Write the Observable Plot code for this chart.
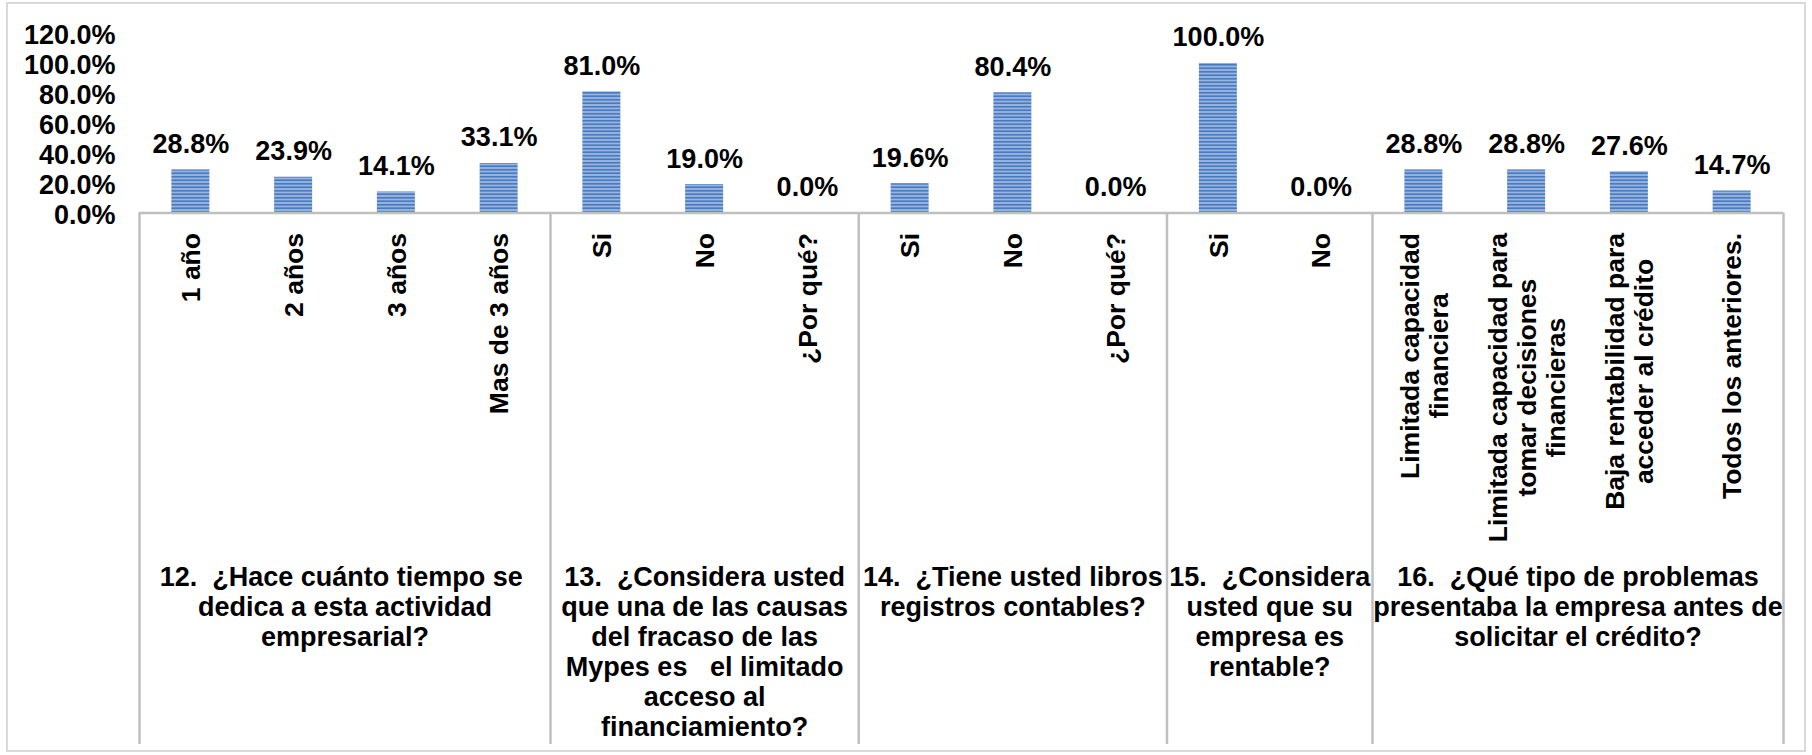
<!DOCTYPE html>
<html>
<head>
<meta charset="utf-8">
<script src="https://cdn.jsdelivr.net/npm/d3@7"></script>
<script src="https://cdn.jsdelivr.net/npm/@observablehq/plot@0.6"></script>
<style>
  html, body { margin: 0; padding: 0; background: #fff; overflow: hidden; }
  #wrap { position: relative; width: 1812px; height: 755px; }
  #border { position: absolute; left: 6px; top: 2px; width: 1800px; height: 750px;
            border: 2px solid #d9d9d9; box-sizing: border-box; pointer-events: none; }
</style>
</head>
<body>
<div id="wrap"></div>
<script>
// ---- data ----
const questions = [
  "12. \u00A0¿Hace cuánto tiempo se\u00A0\ndedica a esta actividad\nempresarial?",
  "13. \u00A0¿Considera usted\nque una de las causas\ndel fracaso de las\nMypes es \u00A0 el limitado\nacceso al\nfinanciamiento?",
  "14. \u00A0¿Tiene usted libros\nregistros contables?",
  "15. \u00A0¿Considera\nusted que su\nempresa es\nrentable?",
  "16. \u00A0¿Qué tipo de problemas\npresentaba la empresa antes de\nsolicitar el crédito?"
];
const categories = [
  ["1 año", "2 años", "3 años", "Mas de 3 años"],
  ["Si", "No", "¿Por qué?"],
  ["Si", "No", "¿Por qué?"],
  ["Si", "No"],
  ["Limitada capacidad\nfinanciera", "Limitada capacidad para\ntomar decisiones\nfinancieras",
   "Baja rentabilidad para\nacceder al crédito", "Todos los anteriores."]
];
const values = [
  [28.8, 23.9, 14.1, 33.1],
  [81.0, 19.0, 0.0],
  [19.6, 80.4, 0.0],
  [100.0, 0.0],
  [28.8, 28.8, 27.6, 14.7]
];
const yTicks = [0, 20, 40, 60, 80, 100, 120];

// ---- table built from the arrays ----
const rows = [];
const groups = [];
let k = 0;
categories.forEach((cats, g) => {
  const start = k;
  cats.forEach((c, j) => { rows.push({i: k, label: c, v: values[g][j]}); k++; });
  groups.push({start, end: k, q: questions[g]});
});
const n = k;
const boundaries = [0, ...groups.map(g => g.end)];

// ---- layout ----
const W = 1812, H = 755, mL = 139, mR = 29, mT = 33, mB = 542.5;
const FS = 27;      // horizontal texts
const FSR = 26.5;   // rotated category labels
const FONT = "'Liberation Sans', Arial, sans-serif";
const step = (W - mL - mR) / n;
const barW = 38;
const inset = (step - barW) / 2;

const ctx = document.createElement("canvas").getContext("2d");
ctx.font = `bold ${FSR}px 'Liberation Sans'`;
const maxLineWidth = s => Math.max(...s.split("\n").map(l => ctx.measureText(l).width));
const labelGap = 20;

const catLabelMarks = rows.map(r => Plot.text([r], {
  x: d => d.i + 0.5, frameAnchor: "bottom", text: "label",
  rotate: -90, textAnchor: "middle", lineAnchor: "middle", lineHeight: 1.1,
  fontSize: FSR, fontWeight: "bold", fill: "black",
  dy: labelGap + maxLineWidth(r.label) / 2
}));

const chart = Plot.plot({
  width: W, height: H,
  marginLeft: mL, marginRight: mR, marginTop: mT, marginBottom: mB,
  style: `font-family:${FONT};font-weight:bold;background:white;`,
  x: {domain: [0, n], axis: null},
  y: {domain: [0, 120], axis: null},
  marks: [
    Plot.axisY(yTicks, {
      tickSize: 0, tickPadding: 24, label: null, fontSize: FS, fontWeight: "bold",
      tickFormat: d => d.toFixed(1) + "%", dy: 2, fill: "black"
    }),
    Plot.rect(rows, {
      x1: "i", x2: d => d.i + 1, y1: 0, y2: "v",
      insetLeft: inset, insetRight: inset, fill: "url(#stripes)"
    }),
    Plot.ruleY([0], {stroke: "#bfbfbf", strokeWidth: 2.5}),
    Plot.ruleX(boundaries, {
      stroke: "#bfbfbf", strokeWidth: 2.5,
      insetTop: (H - mB) - mT, insetBottom: -(744 - (H - mB))
    }),
    Plot.text(rows, {
      x: d => d.i + 0.5, y: "v", text: d => d.v.toFixed(1) + "%",
      lineAnchor: "bottom", dy: -17, fontSize: FS, fontWeight: "bold", fill: "black"
    }),
    ...catLabelMarks,
    Plot.text(groups, {
      x: d => (d.start + d.end) / 2, frameAnchor: "bottom", text: "q",
      textAnchor: "middle", lineAnchor: "top", lineHeight: 30 / FS,
      fontSize: FS, fontWeight: "bold", fill: "black", dy: 352
    })
  ]
});

const svgNS = "http://www.w3.org/2000/svg";
const defs = document.createElementNS(svgNS, "defs");
defs.innerHTML = `<pattern id="stripes" patternUnits="userSpaceOnUse" width="8" height="3.5">
  <rect width="8" height="3.5" fill="#bdd0ec"/>
  <rect y="0.6" width="8" height="2.3" fill="#4a7bc0"/>
</pattern>`;
chart.insertBefore(defs, chart.firstChild);

const wrap = document.getElementById("wrap");
wrap.appendChild(chart);
const border = document.createElement("div");
border.id = "border";
wrap.appendChild(border);
</script>
</body>
</html>
